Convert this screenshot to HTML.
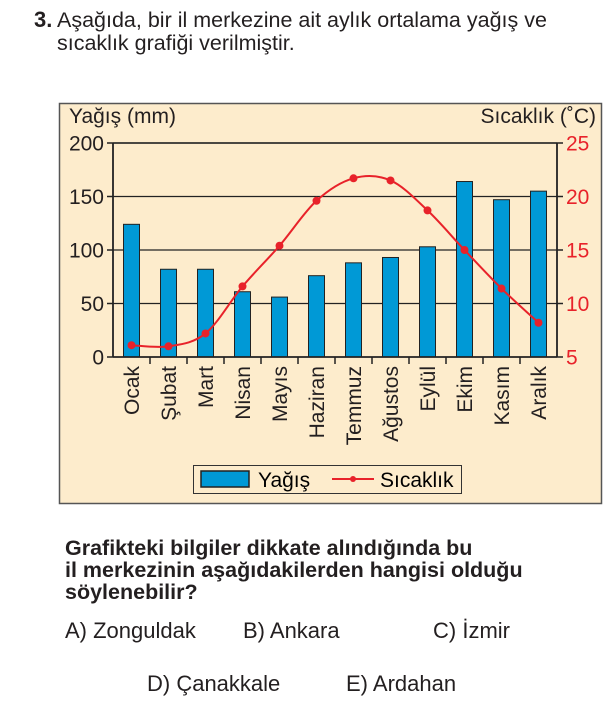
<!DOCTYPE html>
<html><head><meta charset="utf-8">
<style>
body{margin:0;width:612px;height:718px;background:#fff;font-family:"Liberation Sans",Arial,sans-serif;color:#231f20;position:relative;overflow:hidden}
.t{position:absolute;white-space:nowrap}
</style></head><body>
<div class="t" style="left:34px;top:7px;font-size:22px;font-weight:bold">3.</div>
<div class="t" style="left:57px;top:9px;font-size:21.5px;line-height:23px">Aşağıda, bir il merkezine ait aylık ortalama yağış ve<br>sıcaklık grafiği verilmiştir.</div>

<svg style="position:absolute;left:0;top:0" width="612" height="718" font-family="Liberation Sans, Arial, sans-serif">
<rect x="59.5" y="103.5" width="542" height="400" fill="#fdeccc" stroke="#555" stroke-width="1.5"/>
<text x="69" y="123" font-size="21" fill="#231f20">Yağış (mm)</text>
<text x="596" y="123" font-size="21" fill="#231f20" text-anchor="end">Sıcaklık (˚C)</text>
<g id="grid"></g><g id="bars"></g><g id="axes"></g><g id="line"></g><g id="labels"></g>
<g>
<rect x="193.5" y="465.5" width="268" height="28" fill="#fdeccc" stroke="#333" stroke-width="1"/>
<rect x="201" y="471" width="48" height="16" fill="#0099d6" stroke="#222" stroke-width="1.5"/>
<text x="258" y="487" font-size="21">Yağış</text>
<line x1="332" y1="479" x2="374" y2="479" stroke="#e8222a" stroke-width="2"/>
<circle cx="353" cy="479" r="3" fill="#e8222a"/>
<text x="380" y="487" font-size="21">Sıcaklık</text>
</g>
</svg>

<div class="t" style="left:65px;top:537px;font-size:21.5px;font-weight:bold;line-height:22px">Grafikteki bilgiler dikkate alındığında bu<br>il merkezinin aşağıdakilerden hangisi olduğu<br>söylenebilir?</div>
<div class="t" style="left:65px;top:618px;font-size:22px">A) Zonguldak</div>
<div class="t" style="left:243px;top:618px;font-size:22px">B) Ankara</div>
<div class="t" style="left:433px;top:618px;font-size:22px">C) İzmir</div>
<div class="t" style="left:147px;top:671px;font-size:22px">D) Çanakkale</div>
<div class="t" style="left:346px;top:671px;font-size:22px">E) Ardahan</div>

<script>
const months=["Ocak","Şubat","Mart","Nisan","Mayıs","Haziran","Temmuz","Ağustos","Eylül","Ekim","Kasım","Aralık"];
const rain=[124,82,82,61,56,76,88,93,103,164,147,155];
const temp=[6.1,6.0,7.2,11.6,15.4,19.6,21.7,21.5,18.7,15.0,11.4,8.2];
const rainTicks=[0,50,100,150,200];
const tempTicks=[5,10,15,20,25];
const NS="http://www.w3.org/2000/svg";
const X0=113,X1=557,Y0=357,Y1=143;
const bw=(X1-X0)/months.length;
const xC=i=>X0+bw*(i+0.5);
const yR=v=>Y0-(v-0)/(200-0)*(Y0-Y1);
const yT=v=>Y0-(v-5)/(25-5)*(Y0-Y1);
function mk(tag,attrs,parent){const e=document.createElementNS(NS,tag);for(const k in attrs)e.setAttribute(k,attrs[k]);document.getElementById(parent).appendChild(e);return e;}
rainTicks.forEach(v=>{
 if(v>0){const g=mk('line',{x1:X0,x2:X1,y1:yR(v),y2:yR(v),stroke:'#222','stroke-width':1.3},'grid');
 
 }
 const t=mk('line',{x1:X0-6,x2:X0,y1:yR(v),y2:yR(v),stroke:'#222','stroke-width':1.5},'axes');
 
 
 const l=mk('text',{x:X0-9,y:yR(v)+7.5,'font-size':21,'text-anchor':'end',fill:'#231f20'},'labels');l.textContent=v;
 
 
});
tempTicks.forEach(v=>{
 const t=mk('line',{x1:X1,x2:X1+6,y1:yT(v),y2:yT(v),stroke:'#222','stroke-width':1.5},'axes');
 
 
 const l=mk('text',{x:X1+9,y:yT(v)+7.5,'font-size':21,fill:'#e8222a'},'labels');l.textContent=v;
 
 
});
rain.forEach((v,i)=>{
 const r=mk('rect',{x:xC(i)-8,y:yR(v),width:16,height:Y0-yR(v),fill:'#0099d6',stroke:'#222','stroke-width':1},'bars');
 
 
});
[['x1',X0,X0,Y1,Y0],['x2',X1,X1,Y1,Y0],['b',X0,X1,Y0,Y0]].forEach(a=>{
 const l=mk('line',{x1:a[1],x2:a[2],y1:a[3],y2:a[4],stroke:'#222','stroke-width':1.8},'axes');
 
 
});
const topLine=mk('line',{x1:X0,x2:X1,y1:Y1,y2:Y1,stroke:'#222','stroke-width':1.5},'axes');


for(let i=1;i<months.length;i++){
 const t=mk('line',{x1:X0+bw*i,x2:X0+bw*i,y1:Y0,y2:Y0+7,stroke:'#222','stroke-width':1.5},'axes');
 
 
}
months.forEach((m,i)=>{
 const l=mk('text',{transform:`translate(${xC(i)+7.5},${Y0+9}) rotate(-90)`,'font-size':21,'text-anchor':'end',fill:'#231f20'},'labels');
 l.textContent=m;
 
 
});
const pts=temp.map((v,i)=>[xC(i),yT(v)]);
let d=`M${pts[0][0]},${pts[0][1]}`;
for(let i=0;i<pts.length-1;i++){
 const p0=pts[Math.max(0,i-1)],p1=pts[i],p2=pts[i+1],p3=pts[Math.min(pts.length-1,i+2)];
 const c1=[p1[0]+(p2[0]-p0[0])/6,p1[1]+(p2[1]-p0[1])/6],c2=[p2[0]-(p3[0]-p1[0])/6,p2[1]-(p3[1]-p1[1])/6];
 d+=` C${c1[0]},${c1[1]} ${c2[0]},${c2[1]} ${p2[0]},${p2[1]}`;
}
const path=mk('path',{d:d,fill:'none',stroke:'#e8222a','stroke-width':2},'line');


pts.forEach((p,i)=>{
 const c=mk('circle',{cx:p[0],cy:p[1],r:4,fill:'#e8222a'},'line');
 
 
});
</script>
</body></html>
